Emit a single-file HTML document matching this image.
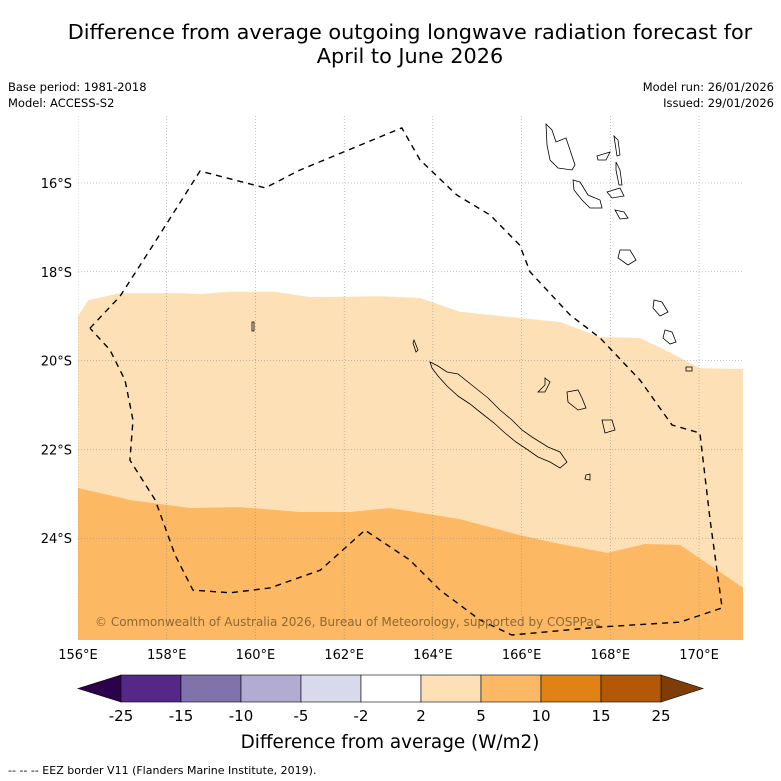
<!DOCTYPE html>
<html><head><meta charset="utf-8"><style>
body{margin:0;background:#fff;width:781px;height:781px;overflow:hidden}
svg{display:block;font-family:"DejaVu Sans","Liberation Sans",sans-serif}
</style></head><body>
<svg id="c" width="781" height="781" viewBox="0 0 781 781">
<text x="410" y="39" font-size="20.8" text-anchor="middle">Difference from average outgoing longwave radiation forecast for</text>
<text x="410" y="63" font-size="20.8" text-anchor="middle">April to June 2026</text>
<text x="8" y="91" font-size="11.5">Base period: 1981-2018</text>
<text x="8" y="107" font-size="11.5">Model: ACCESS-S2</text>
<text x="774" y="91" font-size="11.5" text-anchor="end">Model run: 26/01/2026</text>
<text x="774" y="107" font-size="11.5" text-anchor="end">Issued: 29/01/2026</text>
<defs><clipPath id="mc"><rect x="78" y="116" width="665" height="524"/></clipPath></defs>
<g id="map" clip-path="url(#mc)"></g>
<g id="axes"></g>
<g id="cbar"></g>
<text x="390" y="748" font-size="18.4" text-anchor="middle">Difference from average (W/m2)</text>
<text x="8" y="774" font-size="11">--  --  -- EEZ border V11 (Flanders Marine Institute, 2019).</text>
</svg>
<script>
const lonTicks=[156,158,160,162,164,166,168,170];
const latTicks=[16,18,20,22,24];
const upperLon=[156,156.23,156.95,158.3,158.75,159.43,160.44,161.23,162.81,163.71,164.61,165.96,166.87,167.77,168.67,169.23,170.02,171];
const upperLat=[-19.0,-18.64,-18.48,-18.48,-18.5,-18.45,-18.45,-18.57,-18.55,-18.59,-18.9,-19.04,-19.13,-19.47,-19.49,-19.76,-20.17,-20.19];
const lowerLon=[156,157.17,158.52,159.65,161.0,162.13,163.03,164.61,165.96,166.87,167.93,168.78,169.57,171];
const lowerLat=[-22.87,-23.14,-23.32,-23.30,-23.41,-23.41,-23.32,-23.57,-23.93,-24.13,-24.33,-24.13,-24.15,-25.12];
const eezLon=[156.27,156.95,157.62,158.41,158.75,160.22,161.0,163.30,163.71,164.54,165.29,165.96,166.19,167.09,167.77,168.67,169.39,170.02,170.25,170.52,169.57,167.77,165.78,165.06,164.16,163.48,162.47,161.46,160.33,159.43,158.59,158.19,157.74,157.17,157.24,157.06,156.72,156.27];
const eezLat=[-19.27,-18.55,-17.51,-16.27,-15.73,-16.11,-15.71,-14.76,-15.48,-16.27,-16.72,-17.40,-18.0,-18.97,-19.49,-20.44,-21.45,-21.63,-23.59,-25.57,-25.89,-26.0,-26.18,-25.84,-25.17,-24.49,-23.82,-24.72,-25.12,-25.23,-25.17,-24.38,-23.14,-22.24,-21.34,-20.44,-19.76,-19.27];
const cbLabels=["-25","-15","-10","-5","-2","2","5","10","15","25"];
const cbColors=["#542788","#8073ac","#b2abd2","#d8daeb","#ffffff","#fee0b6","#fdb863","#e08214","#b35806"];
const NS="http://www.w3.org/2000/svg";
const X=lon=>78+(lon-156)*44.36, Y=lat=>183+(-lat-16)*44.4;
function mk(t,a,p){const e=document.createElementNS(NS,t);for(const k in a)e.setAttribute(k,a[k]);p.appendChild(e);return e;}
const map=document.getElementById('map'),axes=document.getElementById('axes'),cb=document.getElementById('cbar');
const pts=(lo,la)=>lo.map((v,i)=>X(v).toFixed(1)+','+Y(la[i]).toFixed(1)).join(' ');
let p=mk('polygon',{points:pts(upperLon,upperLat)+' 743,640 78,640',fill:'#fee0b6'},map);


p=mk('polygon',{points:pts(lowerLon,lowerLat)+' 743,640 78,640',fill:'#fdb863'},map);


lonTicks.forEach(l=>{const g=mk('line',{x1:X(l),x2:X(l),y1:116,y2:640,stroke:'#888','stroke-width':0.5,'stroke-dasharray':'1,2'},map);


const t=mk('text',{x:X(l),y:659,'font-size':13,'text-anchor':'middle'},axes);t.textContent=l+'°E';

});
latTicks.forEach(l=>{const g=mk('line',{x1:78,x2:743,y1:Y(-l),y2:Y(-l),stroke:'#888','stroke-width':0.5,'stroke-dasharray':'1,2'},map);


const t=mk('text',{x:72,y:Y(-l)+5,'font-size':13,'text-anchor':'end'},axes);t.textContent=l+'°S';

});
const isl=["M430,362 L438,366 L447,372 L458,374 L468,382 L478,390 L488,398 L500,410 L512,420 L522,430 L532,437 L548,447 L560,452 L567,462 L560,468 L550,462 L538,457 L528,450 L516,442 L505,433 L494,423 L480,412 L470,404 L458,396 L447,386 L438,376 L432,368Z",
"M414,340 L418,350 L416,352 L413,343Z","M545,378 L550,382 L545,392 L538,392 L545,385Z","M567,392 L578,390 L582,398 L586,408 L578,410 L568,402Z",
"M602,420 L612,420 L615,430 L605,433Z","M586,475 L590,474 L590,480 L585,479Z",
"M546,124 L552,130 L556,142 L566,138 L570,150 L575,165 L572,170 L558,168 L550,160 L547,145Z",
"M573,180 L580,182 L588,195 L600,200 L602,208 L590,208 L582,200 L574,190Z","M614,136 L618,140 L620,155 L617,156Z","M616,162 L620,170 L622,185 L619,185 L616,170Z",
"M597,156 L610,152 L606,160 L598,160Z","M607,192 L620,188 L624,196 L612,198Z","M615,210 L624,212 L628,218 L620,219Z","M620,250 L630,250 L636,260 L628,265 L618,258Z",
"M654,300 L662,302 L668,312 L660,316 L653,308Z","M665,330 L672,332 L676,342 L670,344 L663,338Z","M686,367 L692,367 L692,371 L686,371Z","M252,322 L254,322 L254,331 L252,331Z"];
isl.forEach(d=>{const e=mk('path',{d:d,fill:'none',stroke:'#000','stroke-width':0.8},map);

});
const ez=mk('polyline',{points:pts(eezLon,eezLat),fill:'none',stroke:'#000','stroke-width':1.4,'stroke-dasharray':'6,5'},map);


const cr=mk('text',{x:95,y:626,'font-size':12,fill:'#8a6a3a'},map);cr.textContent='© Commonwealth of Australia 2026, Bureau of Meteorology, supported by COSPPac';


const x0=121,w=60,y0=675,h=27;
let tri=mk('polygon',{points:`${x0},${y0} 78,${y0+h/2} ${x0},${y0+h}`,fill:'#2d004b',stroke:'#000','stroke-width':0.6},cb);


tri=mk('polygon',{points:`${x0+9*w},${y0} 703,${y0+h/2} ${x0+9*w},${y0+h}`,fill:'#7f3b08',stroke:'#000','stroke-width':0.6},cb);


cbColors.forEach((c,i)=>{const r=mk('rect',{x:x0+i*w,y:y0,width:w,height:h,fill:c,stroke:'#000','stroke-width':0.6},cb);

});
cbLabels.forEach((l,i)=>{const t=mk('text',{x:x0+i*w,y:721,'font-size':15,'text-anchor':'middle'},cb);t.textContent=l;

});
</script>
</body></html>
